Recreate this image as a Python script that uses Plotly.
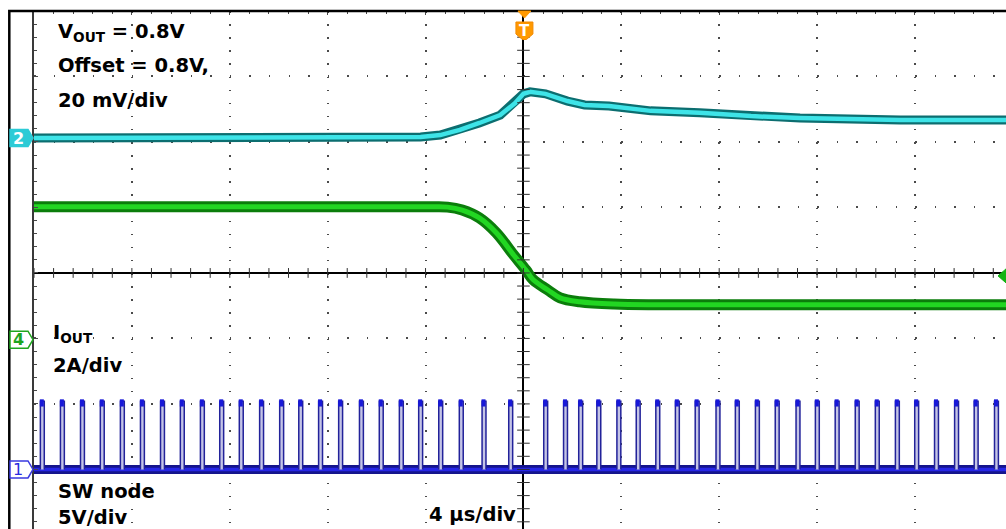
import numpy as np
import plotly.graph_objects as go

# ---------------- scope settings ----------------
TIME_PER_DIV = 4.0          # µs/div
T_LEFT, T_RIGHT = -20.0, 19.72   # visible time window (µs), right side cropped
DIV_BOTTOM, DIV_TOP = -3.91, 4.0  # visible vertical window (divisions)

CH2_POS, CH2_OFFSET, CH2_SCALE = 2.06, 0.8, 0.020   # VOUT: div, V, V/div
CH4_POS, CH4_SCALE = -1.02, 2.0                      # IOUT: div, A/div
CH1_POS, CH1_SCALE = -3.0, 5.0                       # SW node: div, V/div
TRIG_LEVEL_A = 1.95                                  # ch4 trigger level (A)

# ---------------- channel 2: VOUT (V) ----------------
vout_t = [-20.0, -13.2, -9.1, -5.0, -4.2, -3.4, -2.6, -1.8, -0.95, -0.34, 0.0,
          0.27, 0.9, 1.8, 2.5, 3.5, 5.2, 7.2, 9.3, 11.3, 15.4, 19.8]
vout_v = [0.8000, 0.8000, 0.8000, 0.8000, 0.8003, 0.8009, 0.8025, 0.8046, 0.8070,
          0.8107, 0.8135, 0.8141, 0.8135, 0.8113, 0.8101, 0.8098, 0.8083, 0.8077,
          0.8067, 0.8061, 0.8055, 0.8055]

# ---------------- channel 4: IOUT (A) ----------------
iout_t = [-20.0, -9.1, -3.8, -3.1, -2.5, -1.8, -1.1, -0.4, 0.1, 0.4, 1.0, 1.5,
          2.3, 3.7, 5.5, 12.0, 19.8]
iout_a = [4.06, 4.06, 4.06, 4.05, 3.96, 3.72, 3.26, 2.59, 2.13, 1.83, 1.52, 1.28,
          1.16, 1.09, 1.07, 1.07, 1.07]

# ---------------- channel 1: SW node pulses (µs) ----------------
sw_t = [-19.68, -18.86, -18.04, -17.23, -16.41, -15.59, -14.77, -13.96, -13.14,
        -12.35, -11.55, -10.72, -9.90, -9.12, -8.31, -7.49, -6.64, -5.83, -5.01,
        -4.22, -3.40, -2.56, -1.63, -0.54,
        0.89, 1.70, 2.32, 3.06, 3.88, 4.67, 5.47, 6.27, 7.08, 7.93, 8.72, 9.54,
        10.35, 11.20, 11.99, 12.80, 13.62, 14.44, 15.26, 16.05, 16.86, 17.68,
        18.48, 19.31]
SW_HIGH_V = 5.2
SW_LOW_V = 0.0
SW_ON_US = 0.16

# ---------------- conversions to screen divisions ----------------
ch2_div = [CH2_POS + (v - CH2_OFFSET) / CH2_SCALE for v in vout_v]
ch4_div = [CH4_POS + a / CH4_SCALE for a in iout_a]
sw_hi = CH1_POS + SW_HIGH_V / CH1_SCALE
sw_lo = CH1_POS + SW_LOW_V / CH1_SCALE

pulse_x, pulse_y, top_x, top_y = [], [], [], []
for t in sw_t:
    t0, t1 = t - 0.06, t - 0.06 + SW_ON_US
    pulse_x += [t0, t0, t1, t1, None]
    pulse_y += [sw_lo, sw_hi, sw_hi, sw_lo, None]
    top_x += [t, t, None]
    top_y += [sw_hi - 0.08, sw_hi + 0.03, None]

FONT = "DejaVu Sans"

fig = go.Figure()

# SW node low band
fig.add_trace(go.Scatter(x=[T_LEFT, T_RIGHT], y=[sw_lo, sw_lo], mode="lines",
                         line=dict(color="#14148c", width=9), hoverinfo="skip"))
fig.add_trace(go.Scatter(x=[T_LEFT, T_RIGHT], y=[sw_lo, sw_lo], mode="lines",
                         line=dict(color="#2626e6", width=3.5), hoverinfo="skip"))
# SW pulses
fig.add_trace(go.Scatter(x=pulse_x, y=pulse_y, mode="lines", fill="toself",
                         fillcolor="#c4c4e6", line=dict(color="#22229a", width=1.5),
                         hoverinfo="skip"))
fig.add_trace(go.Scatter(x=top_x, y=top_y, mode="lines",
                         line=dict(color="#1818d8", width=4), hoverinfo="skip"))

# IOUT
fig.add_trace(go.Scatter(x=iout_t, y=ch4_div, mode="lines", line_shape="spline",
                         line=dict(color="#0b7d0b", width=11), hoverinfo="skip"))
fig.add_trace(go.Scatter(x=iout_t, y=ch4_div, mode="lines", line_shape="spline",
                         line=dict(color="#22d622", width=5), hoverinfo="skip"))

# VOUT
fig.add_trace(go.Scatter(x=vout_t, y=ch2_div, mode="lines",
                         line=dict(color="#0c6e70", width=9), hoverinfo="skip"))
fig.add_trace(go.Scatter(x=vout_t, y=ch2_div, mode="lines",
                         line=dict(color="#3ee4e8", width=4.5), hoverinfo="skip"))

# centre-line ticks of the graticule
minor_t = np.arange(T_LEFT, T_RIGHT, TIME_PER_DIV / 5)
minor_d = np.arange(-3.8, DIV_TOP - 0.1, 0.2)
fig.add_trace(go.Scatter(x=minor_t, y=np.zeros_like(minor_t), mode="markers",
                         marker=dict(symbol="line-ns", size=7,
                                     line=dict(color="#303030", width=1)),
                         hoverinfo="skip"))
fig.add_trace(go.Scatter(x=np.zeros_like(minor_d), y=minor_d, mode="markers",
                         marker=dict(symbol="line-ew", size=9,
                                     line=dict(color="#303030", width=1)),
                         hoverinfo="skip"))

# ---------------- layout ----------------
L, T, W, H = 34, 11, 972, 518
def px_x(px):
    return (px - L) / W
def px_y(py):
    return (T + H - py) / H

grid_col = "#4a4a4a"
fig.update_layout(
    width=1006, height=529,
    margin=dict(l=L, r=0, t=T, b=0, pad=0),
    paper_bgcolor="white", plot_bgcolor="white",
    showlegend=False,
    xaxis=dict(range=[T_LEFT, T_RIGHT], side="top", showticklabels=False,
               dtick=TIME_PER_DIV, tick0=0, ticks="inside", ticklen=4,
               tickcolor=grid_col, tickwidth=1,
               minor=dict(dtick=TIME_PER_DIV / 5, ticks="inside", ticklen=3,
                          tickcolor=grid_col, showgrid=False),
               showgrid=True, gridcolor=grid_col, gridwidth=1.5,
               griddash="1.5px,11.6px",
               zeroline=True, zerolinecolor="black", zerolinewidth=1.5,
               showline=False, fixedrange=True),
    yaxis=dict(range=[DIV_BOTTOM, DIV_TOP], showticklabels=False,
               dtick=1, tick0=0, ticks="inside", ticklen=4,
               tickcolor=grid_col, tickwidth=1,
               minor=dict(dtick=0.2, ticks="inside", ticklen=3,
                          tickcolor=grid_col, showgrid=False),
               showgrid=True, gridcolor=grid_col, gridwidth=1.5,
               griddash="1.5px,18.08px",
               zeroline=True, zerolinecolor="black", zerolinewidth=1.5,
               showline=True, linecolor="#3a3a3a", linewidth=1.5,
               fixedrange=True),
)

shapes = []
# outer black frame (left and top)
shapes.append(dict(type="path", xref="paper", yref="paper", xsizemode="pixel",
                   ysizemode="pixel", xanchor=0, yanchor=1,
                   path="M -24.7,-530 L -24.7,0 L 980,0",
                   line=dict(color="black", width=2.5)))
# channel markers
marker_path = "M -24,8.5 L -6,8.5 L -1,0 L -6,-8.5 L -24,-8.5 Z"
for pos, fill, edge in [(CH2_POS, "#2ccbd6", "#2ccbd6"),
                        (CH4_POS, "white", "#1ea51e"),
                        (CH1_POS, "white", "#3a3ae0")]:
    shapes.append(dict(type="path", xref="paper", yref="y", xsizemode="pixel",
                       ysizemode="pixel", xanchor=0, yanchor=pos, path=marker_path,
                       fillcolor=fill, line=dict(color=edge, width=1.5)))
# trigger position marker
shapes.append(dict(type="path", xref="x", yref="paper", xsizemode="pixel",
                   ysizemode="pixel", xanchor=0, yanchor=1,
                   path="M -5.5,0 L 7.5,0 L 1,-7 Z",
                   fillcolor="#ff9900", line=dict(color="#ff9900", width=1)))
shapes.append(dict(type="path", xref="x", yref="paper", xsizemode="pixel",
                   ysizemode="pixel", xanchor=0, yanchor=1,
                   path="M -7.5,-11 L 9.5,-11 L 9.5,-23 L 3,-28.5 L -1,-28.5 L -7.5,-23 Z",
                   fillcolor="#ff9900", line=dict(color="#f28a00", width=1)))
# trigger level marker (ch4)
shapes.append(dict(type="path", xref="paper", yref="y", xsizemode="pixel",
                   ysizemode="pixel", xanchor=1,
                   yanchor=CH4_POS + TRIG_LEVEL_A / CH4_SCALE,
                   path="M 0,7 L 0,-7 L -8,0 Z",
                   fillcolor="#14b414", line=dict(color="#14b414", width=1)))
fig.update_layout(shapes=shapes)

ann = []
labels = [
    ("V<sub>OUT</sub> = 0.8V", 56, 32),
    ("Offset = 0.8V,", 56, 65),
    ("20 mV/div", 56, 101),
    ("I<sub>OUT</sub>", 51, 333),
    ("2A/div", 51, 365),
    ("SW node", 56, 491.5),
    ("5V/div", 56, 517),
    ("4 µs/div", 427, 514.5),
]
for text, lx, cy in labels:
    ann.append(dict(text=text, xref="paper", yref="paper", x=px_x(lx), y=px_y(cy),
                    xanchor="left", yanchor="middle", showarrow=False,
                    font=dict(family=FONT, size=19.5, color="black", weight="bold")))
# channel numbers
for pos, txt, col, bold in [(CH2_POS, "2", "white", True),
                            (CH4_POS, "4", "#1ea51e", True),
                            (CH1_POS, "1", "#2a2ae0", False)]:
    ann.append(dict(text=txt, xref="paper", yref="y", x=0, y=pos, xshift=-16,
                    xanchor="center", yanchor="middle", showarrow=False,
                    font=dict(family=FONT, size=16, color=col,
                              weight="bold" if bold else "normal")))
ann.append(dict(text="T", xref="x", yref="paper", x=0, y=1, xshift=1, yshift=-19.5,
                xanchor="center", yanchor="middle", showarrow=False,
                font=dict(family=FONT, size=15, color="white", weight="bold")))
fig.update_layout(annotations=ann)

fig.write_html("out.html", config=dict(displayModeBar=False),
               post_script="document.body.style.margin='0';document.body.style.overflow='hidden';")
